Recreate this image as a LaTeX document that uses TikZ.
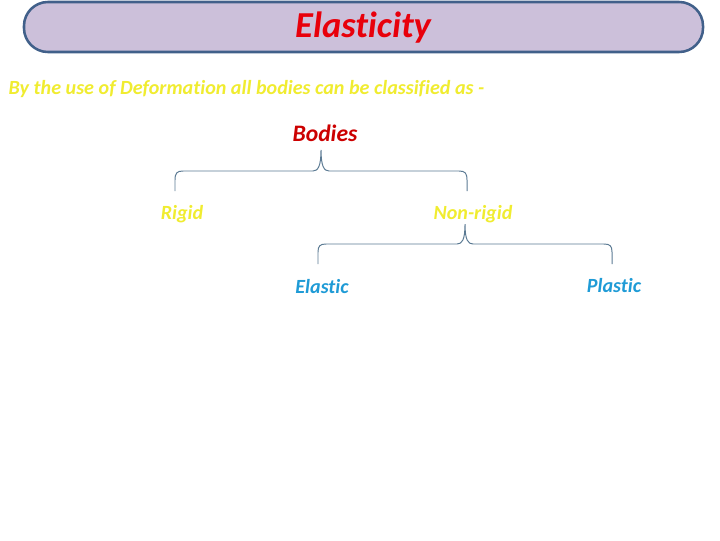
\documentclass[tikz,border=0pt]{standalone}
\usepackage{fontspec}
\setmainfont{Carlito}[Ligatures=NoCommon]
\usepackage{xcolor}
\usetikzlibrary{positioning,calc}
\definecolor{lilac}{HTML}{CCC0DA}
\definecolor{frame}{HTML}{41608A}
\definecolor{titlered}{HTML}{E8000B}
\definecolor{bodyred}{HTML}{CC0000}
\definecolor{hiyellow}{HTML}{F0EC30}
\definecolor{skyblue}{HTML}{1F9BD6}
\definecolor{bracecol}{HTML}{5B7A93}
\tikzset{
  lbl/.style={inner sep=1pt, font=\bfseries\itshape\fontsize{14.3}{16}\selectfont},
  toplbl/.style={lbl, text=hiyellow},
  subl/.style={lbl, text=skyblue},
  brace/.style={draw=bracecol, line width=0.7pt}
}
\begin{document}
\begin{tikzpicture}[x=0.025cm, y=-0.025cm]
\useasboundingbox (0,0) rectangle (720,540);
% header
\draw[frame, line width=1.8pt, fill=lilac, rounded corners=17pt] (24,2) rectangle (703,52);
\node[font=\bfseries\itshape\fontsize{26}{30}\selectfont, text=titlered] (title) at (363,28) {Elasticity};
\node[lbl, text=hiyellow, anchor=west] (intro) at (7,89) {By the use of Deformation all bodies can be classified as -};
% tree
\node[lbl, text=bodyred, font=\bfseries\itshape\fontsize{16.8}{19}\selectfont] (bodies) at (325,133) {Bodies};
\node[toplbl] (rigid) at (182,214) {Rigid};
\node[toplbl] (nonrigid) at (473,214) {Non-rigid};
\node[subl] (elastic) at (322,287) {Elastic};
\node[subl] (plastic) at (614,286) {Plastic};
\coordinate (tipA) at (321,150);
\coordinate (endA1) at (175,191);
\coordinate (endA2) at (467,191);
\coordinate (tipB) at (465,224);
\coordinate (endB1) at (318,264);
\coordinate (endB2) at (612,264);
% first brace
\draw[brace] (endA1) -- (175,180) .. controls (175,173) and (177,171) .. (183,171)
  -- (313,171) .. controls (318,171) and (321,166) .. (tipA)
  .. controls (321,166) and (324,171) .. (329,171)
  -- (459,171) .. controls (465,171) and (467,173) .. (467,180)
  -- (endA2);
% second brace
\draw[brace] (endB1) -- (318,252) .. controls (318,246) and (320,244) .. (326,244)
  -- (457,244) .. controls (462,244) and (465,240) .. (tipB)
  .. controls (465,240) and (468,244) .. (473,244)
  -- (604,244) .. controls (610,244) and (612,246) .. (612,252)
  -- (endB2);
\end{tikzpicture}
\end{document}
